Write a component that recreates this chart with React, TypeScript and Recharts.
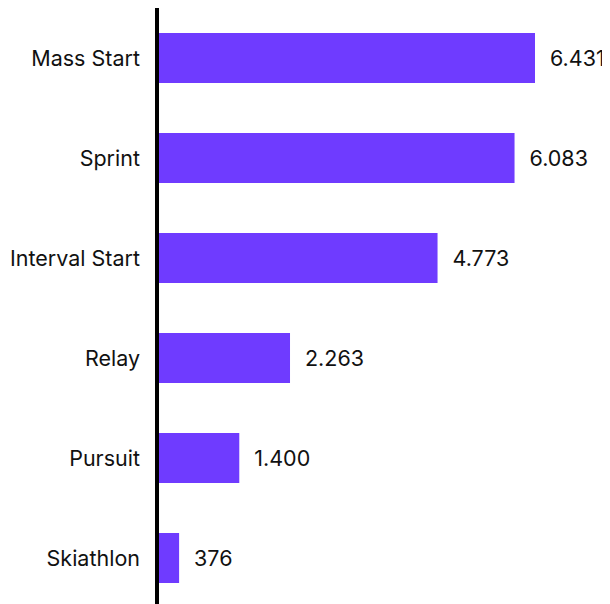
import React from 'react';
import { BarChart, Bar, XAxis, YAxis, LabelList } from 'recharts';

const categories = ['Mass Start', 'Sprint', 'Interval Start', 'Relay', 'Pursuit', 'Skiathlon'];
const values = [6431, 6083, 4773, 2263, 1400, 376];

const data = categories.map((name, i) => ({ name, value: values[i] }));

const fmt = (v: any) => String(v).replace(/\B(?=(\d{3})+(?!\d))/g, '.');

const FONT = 'Inter, "Noto Sans", sans-serif';

export default function App() {
  return (
    <div style={{ fontFamily: FONT }}>
      <BarChart
        width={602}
        height={600}
        data={data}
        layout="vertical"
        margin={{ top: 0, right: 75, bottom: 0, left: 0 }}
      >
        <XAxis type="number" hide domain={[0, 'dataMax']} />
        <YAxis
          type="category"
          dataKey="name"
          width={149}
          tickSize={0}
          tickMargin={17}
          tickLine={false}
          axisLine={{ stroke: '#000', strokeWidth: 4 }}
          tick={{ fill: '#111', fontSize: 21.5, fontFamily: FONT }}
        />
        <Bar dataKey="value" fill="#6F3BFF" barSize={50} isAnimationActive={false}>
          <LabelList
            dataKey="value"
            position="right"
            offset={15}
            formatter={fmt}
            style={{ fill: '#111', fontSize: 21.5, fontFamily: FONT }}
          />
        </Bar>
      </BarChart>
    </div>
  );
}
